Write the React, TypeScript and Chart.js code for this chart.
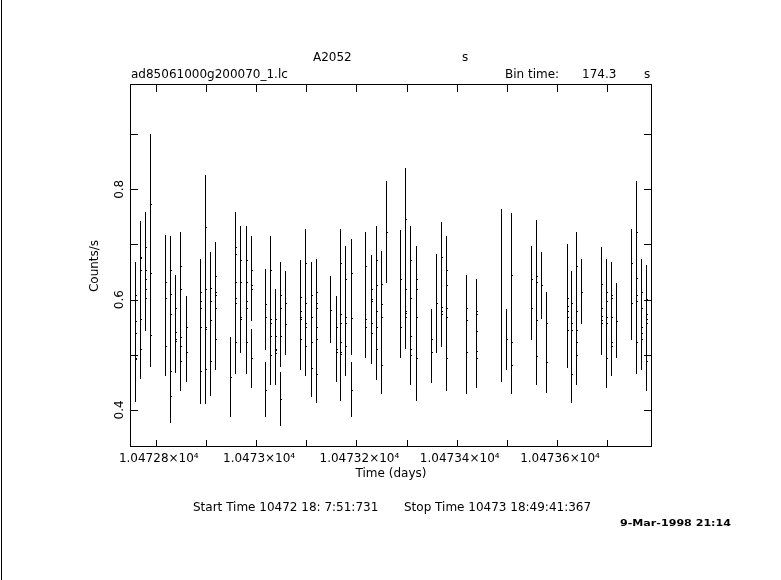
import React, { useEffect, useRef } from "react";
import { Chart, registerables } from "chart.js";

Chart.register(...registerables);

// Time of each visible error-bar column (days)
const groupTime = [
  10472.7591, 10472.7691, 10472.7791, 10472.789, 10472.8189, 10472.8289, 10472.8389, 10472.8489, 10472.8596, 10472.8881, 10472.8987,
  10472.9087, 10472.9186, 10472.9486, 10472.9585, 10472.9685, 10472.9799, 10472.9898, 10472.9898, 10473.0183, 10473.0183, 10473.0283, 10473.0383, 10473.0483, 10473.0483,
  10473.0582, 10473.0881, 10473.0981, 10473.1095, 10473.1194, 10473.148, 10473.1587, 10473.1679, 10473.1779, 10473.1892, 10473.1892,
  10473.2177, 10473.2285, 10473.2391, 10473.2491, 10473.259, 10473.2875, 10473.2975, 10473.3075, 10473.3188, 10473.3487,
  10473.3587, 10473.3693, 10473.3793, 10473.4185, 10473.4391, 10473.4889, 10473.4989,
  10473.5077, 10473.5487, 10473.5581, 10473.5687, 10473.5787, 10473.6193, 10473.6285, 10473.6373, 10473.6485,
  10473.6883, 10473.6983, 10473.7083, 10473.7182, 10473.7482, 10473.7581, 10473.7669, 10473.7775,
];

// Upper end of each error-bar column (counts/s)
const groupTop = [
  0.669, 0.742, 0.758, 0.901, 0.718, 0.716, 0.644, 0.723, 0.607, 0.674, 0.826,
  0.686, 0.705, 0.533, 0.758, 0.734, 0.734, 0.716, 0.547, 0.656, 0.487, 0.716, 0.62, 0.669, 0.469,
  0.651, 0.672, 0.728, 0.669, 0.674, 0.642, 0.607, 0.728, 0.698, 0.71, 0.487,
  0.723, 0.68, 0.734, 0.689, 0.815, 0.727, 0.839, 0.734, 0.698, 0.583,
  0.683, 0.741, 0.716, 0.644, 0.638, 0.765, 0.583,
  0.757, 0.698, 0.745, 0.687, 0.614, 0.7, 0.651, 0.723, 0.674,
  0.695, 0.674, 0.669, 0.631, 0.728, 0.815, 0.674, 0.662,
];

// Lower end of each error-bar column (counts/s)
const groupBottom = [
  0.414, 0.456, 0.544, 0.477, 0.461, 0.376, 0.467, 0.434, 0.45, 0.41, 0.41,
  0.425, 0.472, 0.387, 0.466, 0.504, 0.466, 0.561, 0.439, 0.509, 0.387, 0.445, 0.445, 0.477, 0.37,
  0.499, 0.472, 0.461, 0.423, 0.412, 0.521, 0.45, 0.416, 0.461, 0.5, 0.387,
  0.494, 0.483, 0.455, 0.428, 0.631, 0.494, 0.51, 0.445, 0.417, 0.449,
  0.504, 0.515, 0.434, 0.428, 0.439, 0.45, 0.472,
  0.428, 0.526, 0.445, 0.565, 0.43, 0.476, 0.412, 0.445, 0.555,
  0.499, 0.439, 0.461, 0.494, 0.527, 0.466, 0.472, 0.434,
];

// Rate markers (counts/s) sitting on each column
const groupRates: number[][] = [
  [0.609, 0.562, 0.539, 0.495, 0.492],
  [0.678, 0.675, 0.654, 0.564, 0.51],
  [0.695, 0.654, 0.638, 0.619, 0.603],
  [0.773, 0.648, 0.535],
  [0.632, 0.603, 0.516],
  [0.654, 0.611, 0.574, 0.471, 0.426],
  [0.585, 0.542, 0.529, 0.525],
  [0.661, 0.619, 0.533, 0.516, 0.489],
  [0.55, 0.505],
  [0.614, 0.597, 0.585, 0.55, 0.471],
  [0.731, 0.619, 0.55, 0.547, 0.475],
  [0.621, 0.597, 0.563, 0.489],
  [0.643, 0.614, 0.609, 0.585, 0.529],
  [0.46],
  [0.696, 0.683, 0.632, 0.603, 0.593, 0.524],
  [0.672, 0.632, 0.568, 0.564],
  [0.672, 0.632, 0.597, 0.585, 0.524],
  [0.654, 0.626, 0.619],
  [0.494],
  [0.592, 0.568],
  [0.436],
  [0.654, 0.564, 0.558, 0.534, 0.5],
  [0.564, 0.534, 0.51, 0.508, 0.504],
  [0.609, 0.585, 0.534],
  [0.42],
  [0.593, 0.556],
  [0.605, 0.579, 0.568, 0.564, 0.529],
  [0.666, 0.593, 0.558, 0.55, 0.516],
  [0.609, 0.568, 0.524, 0.476],
  [0.614, 0.593, 0.585, 0.55, 0.529, 0.465],
  [0.581],
  [0.55, 0.51, 0.505],
  [0.666, 0.574, 0.558, 0.524, 0.505, 0.501],
  [0.637, 0.568, 0.558, 0.516],
  [0.648, 0.567],
  [0.436],
  [0.661, 0.564, 0.55],
  [0.619, 0.602, 0.597, 0.558, 0.539],
  [0.672, 0.626, 0.579, 0.55, 0.51],
  [0.629, 0.592, 0.568, 0.481],
  [0.722],
  [0.637, 0.55],
  [0.746, 0.619, 0.579, 0.576, 0.568],
  [0.672, 0.603, 0.534, 0.51, 0.5],
  [0.637, 0.619, 0.568, 0.494],
  [0.529, 0.505],
  [0.594],
  [0.677, 0.587, 0.579, 0.574],
  [0.654, 0.626, 0.585, 0.568, 0.494],
  [0.585, 0.563, 0.505],
  [0.579, 0.574, 0.543, 0.507, 0.494],
  [],
  [0.529],
  [0.645, 0.524, 0.481],
  [0.637, 0.585],
  [0.643, 0.632, 0.563, 0.498],
  [0.627],
  [0.558, 0.487],
  [0.603, 0.588, 0.579, 0.568, 0.545],
  [0.593, 0.558, 0.545, 0.465],
  [0.661, 0.579, 0.545, 0.524, 0.5],
  [0.614],
  [0.629, 0.585, 0.57, 0.563, 0.558],
  [0.614, 0.597, 0.568, 0.558, 0.494],
  [0.609, 0.603, 0.568, 0.524, 0.516],
  [0.561],
  [0.666, 0.594],
  [0.722, 0.639, 0.609, 0.597, 0.524],
  [0.614, 0.585, 0.55, 0.539, 0.529],
  [0.602, 0.574, 0.564, 0.558, 0.489],
];

const xMin = 10472.7486;
const xMax = 10473.7894;
const yMin = 0.3328;
const yMax = 0.9909;

const xTickValues = [10472.8, 10472.9, 10473.0, 10473.1, 10473.2, 10473.3, 10473.4, 10473.5, 10473.6, 10473.7];
const xLabelValues = [10472.8, 10473.0, 10473.2, 10473.4, 10473.6];
const xTickLabels = ["1.04728×10⁴", "1.0473×10⁴", "1.04732×10⁴", "1.04734×10⁴", "1.04736×10⁴"];
const yTickValues = [0.4, 0.5, 0.6, 0.7, 0.8, 0.9];
const yLabelValues = [0.4, 0.6, 0.8];
const yTickLabels = ["0.4", "0.6", "0.8"];

const FONT = '"DejaVu Sans", sans-serif';

const lcPlugin = {
  id: "lcPlugin",
  afterDraw(chart: any) {
    const ctx: CanvasRenderingContext2D = chart.ctx;
    const xs = chart.scales.x;
    const ys = chart.scales.y;
    const { left, right, top, bottom } = chart.chartArea;
    ctx.save();
    ctx.fillStyle = "#000";
    ctx.strokeStyle = "#000";
    ctx.lineWidth = 1;

    // page edge line
    ctx.fillRect(1, 0, 1, 580);

    // frame
    ctx.strokeRect(left + 0.5, top + 0.5, right - left - 1, bottom - top - 1);

    // ticks (inward, all four sides)
    const tl = 7;
    xTickValues.forEach((v) => {
      const px = Math.round(xs.getPixelForValue(v));
      ctx.fillRect(px, bottom - tl, 1, tl);
      ctx.fillRect(px, top + 1, 1, tl);
    });
    yTickValues.forEach((v) => {
      const py = Math.round(ys.getPixelForValue(v));
      ctx.fillRect(left + 1, py, tl, 1);
      ctx.fillRect(right - 1 - tl, py, tl, 1);
    });

    // error bars and rate markers
    groupTime.forEach((t, i) => {
      const px = Math.round(xs.getPixelForValue(t));
      const y1 = Math.round(ys.getPixelForValue(groupTop[i]));
      const y2 = Math.round(ys.getPixelForValue(groupBottom[i]));
      ctx.fillRect(px, y1, 1, y2 - y1);
      groupRates[i].forEach((r) => {
        const py = Math.round(ys.getPixelForValue(r));
        ctx.fillRect(px + 1, py, 1, 1);
      });
    });

    // tick labels
    ctx.font = `12px ${FONT}`;
    ctx.textBaseline = "middle";
    ctx.textAlign = "center";
    xLabelValues.forEach((v, i) => {
      const px = xs.getPixelForValue(v);
      ctx.fillText(xTickLabels[i], px + 3, 459);
    });
    yLabelValues.forEach((v, i) => {
      const py = ys.getPixelForValue(v);
      ctx.save();
      ctx.translate(120, py);
      ctx.rotate(-Math.PI / 2);
      ctx.fillText(yTickLabels[i], 0, 0);
      ctx.restore();
    });

    // axis titles
    ctx.fillText("Time (days)", 391, 474);
    ctx.save();
    ctx.translate(95, 266);
    ctx.rotate(-Math.PI / 2);
    ctx.fillText("Counts/s", 0, 0);
    ctx.restore();

    // header
    ctx.textAlign = "left";
    ctx.fillText("A2052", 313, 58);
    ctx.fillText("s", 462, 58);
    ctx.fillText("ad85061000g200070_1.lc", 131, 75);
    ctx.fillText("Bin time:", 505, 75);
    ctx.fillText("174.3", 582, 75);
    ctx.fillText("s", 644, 75);

    // footer
    ctx.fillText("Start Time 10472 18: 7:51:731", 193, 508);
    ctx.fillText("Stop Time 10473 18:49:41:367", 404, 508);

    // small date stamp, stretched horizontally
    ctx.font = `bold 8px ${FONT}`;
    const dateText = "9-Mar-1998 21:14";
    const w = ctx.measureText(dateText).width;
    ctx.save();
    ctx.translate(620, 524);
    ctx.scale(111 / w, 1);
    ctx.fillText(dateText, 0, 0);
    ctx.restore();
    ctx.restore();
  },
};

export default function App() {
  const ref = useRef<HTMLCanvasElement | null>(null);
  useEffect(() => {
    document.body.style.margin = "0";
    const canvas = ref.current;
    if (!canvas) return;
    const chart = new Chart(canvas, {
      type: "scatter",
      data: { datasets: [{ data: [], pointRadius: 0 }] },
      options: {
        animation: false,
        responsive: false,
        devicePixelRatio: 1,
        events: [],
        layout: { padding: { left: 130, top: 84, right: 129, bottom: 133 } },
        scales: {
          x: { type: "linear", min: xMin, max: xMax, display: false },
          y: { type: "linear", min: yMin, max: yMax, display: false },
        },
        plugins: { legend: { display: false }, tooltip: { enabled: false } },
      },
      plugins: [lcPlugin],
    });
    return () => chart.destroy();
  }, []);
  return (
    <div style={{ width: 781, height: 580, background: "#fff" }}>
      <canvas ref={ref} width={781} height={580} style={{ display: "block" }} />
    </div>
  );
}
